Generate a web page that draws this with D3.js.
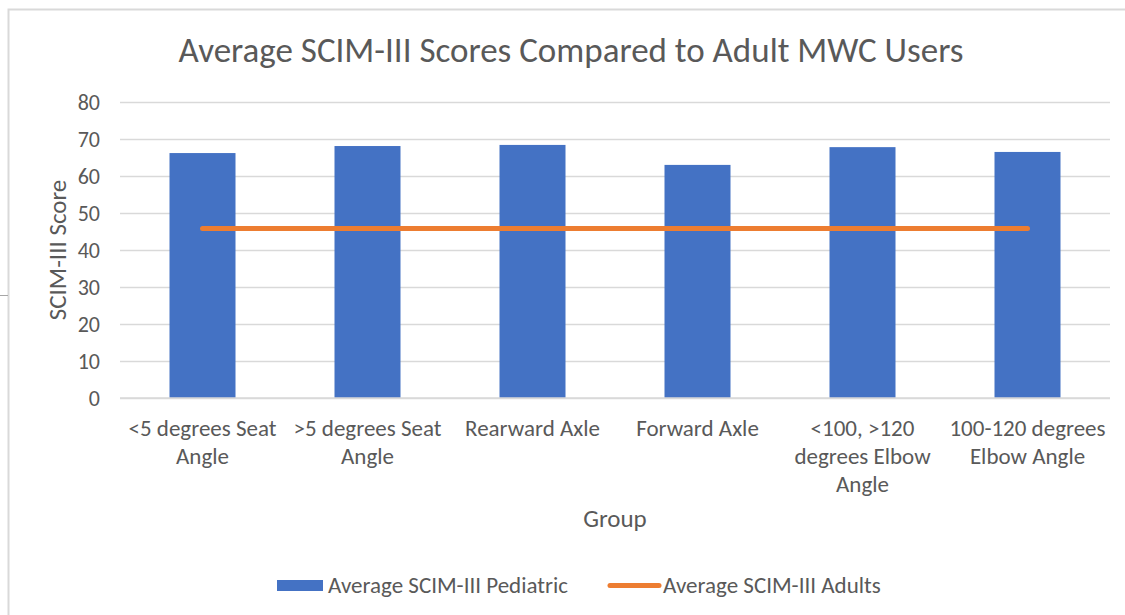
<!DOCTYPE html>
<html>
<head>
<meta charset="utf-8">
<script src="https://cdn.jsdelivr.net/npm/d3@7"></script>
<style>
  html, body { margin: 0; padding: 0; background: #fff; }
  svg { display: block; font-family: Carlito, Lato, "Open Sans", sans-serif; }
</style>
</head>
<body>
<svg id="chart" width="1125" height="615"></svg>
<script>
// Groups on the x axis
const categories = [
  "<5 degrees Seat Angle",
  ">5 degrees Seat Angle",
  "Rearward Axle",
  "Forward Axle",
  "<100, >120 degrees Elbow Angle",
  "100-120 degrees Elbow Angle"
];
// Average SCIM-III score of pediatric users, per group
const pediatric = [66.2, 68.1, 68.4, 63.0, 67.8, 66.5];
// Average SCIM-III score of adult MWC users (reference level, same for each group)
const adults = [45.8, 45.8, 45.8, 45.8, 45.8, 45.8];
const yTicks = [0, 10, 20, 30, 40, 50, 60, 70, 80];
const seriesNames = ["Average SCIM-III Pediatric", "Average SCIM-III Adults"];

const BLUE = "#4472C4", ORANGE = "#ED7D31", TEXT = "#595959", GRID = "#d9d9d9";
const FONT = "Carlito, Lato, 'Open Sans', sans-serif";

const svg = d3.select("#chart");

// outer chart frame
svg.append("rect")
  .attr("x", 8.5).attr("y", 9.5).attr("width", 1140).attr("height", 640)
  .attr("fill", "none").attr("stroke", "#d9d9d9").attr("stroke-width", 2);
svg.append("line")
  .attr("x1", 0).attr("x2", 8).attr("y1", 295.5).attr("y2", 295.5)
  .attr("stroke", "#a6a6a6").attr("stroke-width", 1);

const plot = { left: 120, right: 1110, top: 102, bottom: 398 };

const x = d3.scaleBand().domain(categories)
  .range([plot.left, plot.right]).paddingInner(0.6).paddingOuter(0.3);
const y = d3.scaleLinear().domain([0, 80]).range([plot.bottom, plot.top]);

// title
svg.append("text")
  .attr("x", 571).attr("y", 62).attr("text-anchor", "middle")
  .attr("fill", TEXT).attr("font-size", 35)
  .text("Average SCIM-III Scores Compared to Adult MWC Users");

// gridlines and y labels
const yAxis = d3.axisLeft(y).tickValues(yTicks)
  .tickSize(-(plot.right - plot.left)).tickPadding(20);
const gy = svg.append("g").attr("transform", `translate(${plot.left},0)`).call(yAxis);
gy.attr("font-family", FONT).attr("font-size", 22);
gy.select(".domain").remove();
gy.selectAll(".tick line").attr("stroke", GRID).attr("stroke-width", 1.5);
gy.selectAll(".tick text").attr("fill", TEXT);

// bars
svg.append("g").selectAll("rect").data(pediatric).join("rect")
  .attr("x", (d, i) => x(categories[i]))
  .attr("width", x.bandwidth())
  .attr("y", d => y(d))
  .attr("height", d => y(0) - y(d))
  .attr("fill", BLUE);

// baseline
svg.append("line")
  .attr("x1", plot.left).attr("x2", plot.right)
  .attr("y1", y(0)).attr("y2", y(0))
  .attr("stroke", GRID).attr("stroke-width", 1.5);

// adult reference line
const line = d3.line()
  .x((d, i) => x(categories[i]) + x.bandwidth() / 2)
  .y(d => y(d));
svg.append("path").datum(adults)
  .attr("d", line).attr("fill", "none")
  .attr("stroke", ORANGE).attr("stroke-width", 5)
  .attr("stroke-linecap", "round").attr("stroke-linejoin", "round");

// x category labels, word-wrapped under each bar
const gx = svg.append("g").attr("font-family", FONT).attr("font-size", 23)
  .attr("fill", TEXT).attr("text-anchor", "middle");
categories.forEach(label => {
  const cx = x(label) + x.bandwidth() / 2;
  const t = gx.append("text");
  const words = label.split(" ");
  const lines = [];
  let cur = [];
  words.forEach(w => {
    t.text(cur.concat(w).join(" "));
    if (cur.length && t.node().getComputedTextLength() > 158) {
      lines.push(cur.join(" "));
      cur = [w];
    } else {
      cur.push(w);
    }
  });
  lines.push(cur.join(" "));
  t.text(null);
  lines.forEach((ln, i) => {
    t.append("tspan").attr("x", cx).attr("y", plot.bottom + 38 + i * 28).text(ln);
  });
});

// axis titles
svg.append("text")
  .attr("transform", `translate(66,${(plot.top + plot.bottom) / 2}) rotate(-90)`)
  .attr("text-anchor", "middle").attr("fill", TEXT).attr("font-size", 25)
  .text("SCIM-III Score");
svg.append("text")
  .attr("x", (plot.left + plot.right) / 2).attr("y", 527)
  .attr("text-anchor", "middle").attr("fill", TEXT).attr("font-size", 25)
  .text("Group");

// legend
const legend = svg.append("g").attr("font-size", 23).attr("fill", TEXT);
legend.append("rect").attr("x", 277).attr("y", 580).attr("width", 46).attr("height", 11)
  .attr("fill", BLUE);
legend.append("text").attr("x", 328).attr("y", 593)
  .text(seriesNames[0]);
legend.append("line").attr("x1", 610).attr("x2", 659).attr("y1", 585.5).attr("y2", 585.5)
  .attr("stroke", ORANGE).attr("stroke-width", 5).attr("stroke-linecap", "round");
legend.append("text").attr("x", 663).attr("y", 593)
  .text(seriesNames[1]);
</script>
</body>
</html>
